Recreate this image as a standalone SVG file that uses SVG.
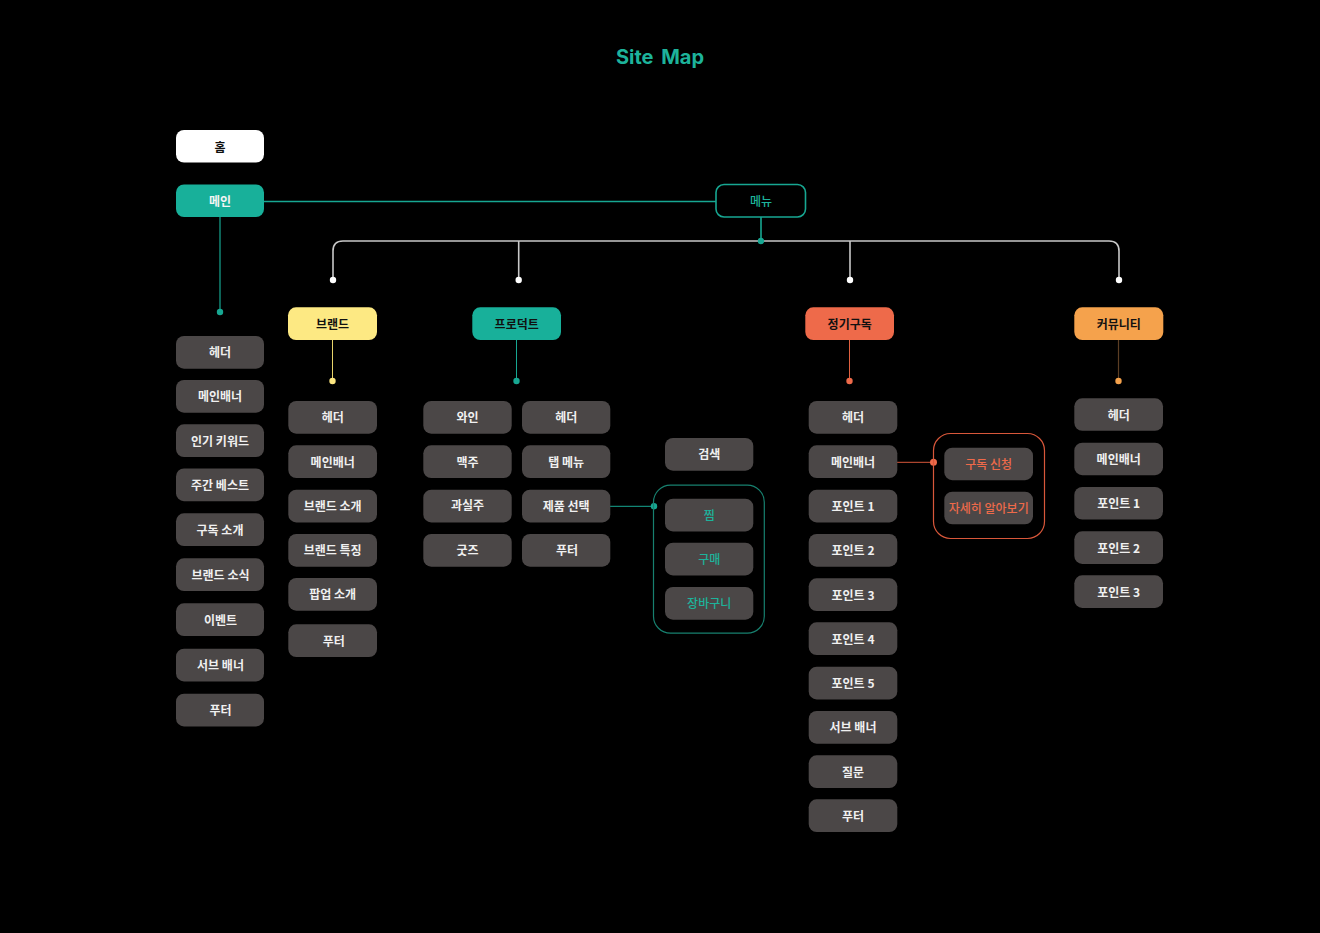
<svg xmlns="http://www.w3.org/2000/svg" width="1320" height="933" viewBox="0 0 1320 933">
<style>
text{font-family:"Noto Sans CJK KR","Noto Sans",sans-serif;font-size:12px;font-weight:700;text-anchor:middle;dominant-baseline:central}
.item rect{fill:#4b4747}
.item text{fill:#f0f0f0}
.item text.tl{fill:#1db39b;font-weight:500}
.item text.or{fill:#ee6a4a;font-weight:500}
.bus{fill:none;stroke:#c8c8c8;stroke-width:1.6}
.wdot{fill:#ffffff}
</style>
<rect width="1320" height="933" fill="#000"/>
<text x="660" y="57" style="font-family:Inter,'Noto Sans',sans-serif;font-size:20px;fill:#1db39b;word-spacing:3px">Site Map</text>

<g id="connectors">
  <line x1="264" y1="201.5" x2="716" y2="201.5" stroke="#17a792" stroke-width="1.6"/>
  <line x1="220" y1="217" x2="220" y2="312" stroke="#17a792" stroke-width="1.2"/>
  <circle cx="220" cy="312" r="3.2" fill="#17a792"/>
  <line x1="761" y1="217" x2="761" y2="241" stroke="#17a792" stroke-width="1.6"/>
  <path class="bus" d="M333 280V251Q333 241 343 241H1109Q1119 241 1119 251V280"/>
  <line class="bus" x1="518.7" y1="241" x2="518.7" y2="280"/>
  <line class="bus" x1="850" y1="241" x2="850" y2="280"/>
  <circle cx="761" cy="241" r="3.2" fill="#17a792"/>
  <circle class="wdot" cx="333" cy="280" r="3.2"/>
  <circle class="wdot" cx="518.7" cy="280" r="3.2"/>
  <circle class="wdot" cx="850" cy="280" r="3.2"/>
  <circle class="wdot" cx="1119" cy="280" r="3.2"/>
  <line x1="332.5" y1="340" x2="332.5" y2="381" stroke="#e8d46a" stroke-width="1"/>
  <circle cx="332.5" cy="381" r="3.2" fill="#fce680"/>
  <line x1="516.5" y1="340" x2="516.5" y2="381" stroke="#17a792" stroke-width="1"/>
  <circle cx="516.5" cy="381" r="3.2" fill="#17a792"/>
  <line x1="849.5" y1="340" x2="849.5" y2="381" stroke="#e0603f" stroke-width="1"/>
  <circle cx="849.5" cy="381" r="3.2" fill="#ee6a4a"/>
  <line x1="1118.5" y1="340" x2="1118.5" y2="381" stroke="#5c3e24" stroke-width="1.2"/>
  <circle cx="1118.5" cy="381" r="3.2" fill="#f5a24c"/>
  <line x1="610" y1="506.3" x2="654" y2="506.3" stroke="#17a792" stroke-width="1"/>
  <circle cx="654" cy="506.3" r="3.2" fill="#17a792"/>
  <line x1="897" y1="462.3" x2="933.5" y2="462.3" stroke="#d8573a" stroke-width="1"/>
  <circle cx="933.5" cy="462.3" r="3.5" fill="#ee6a4a"/>
</g>

<g id="home"><rect x="176" y="130" width="88" height="32.5" rx="8" fill="#ffffff"/><text x="220" y="146" fill="#111">홈</text></g>
<g id="main"><rect x="176" y="184.5" width="88" height="32.5" rx="8" fill="#18b09a"/><text x="220" y="200.5" fill="#f4f4f4">메인</text></g>
<g id="menu"><rect x="716" y="184.5" width="89.5" height="32.5" rx="8" fill="#000" stroke="#17a792" stroke-width="1.6"/><text x="761" y="200.5" fill="#1db39b" style="font-weight:500">메뉴</text></g>

<g id="brand"><rect x="288" y="307.3" width="89" height="32.7" rx="8" fill="#fde983"/><text x="332.5" y="323" fill="#111">브랜드</text></g>
<g id="product"><rect x="472.3" y="307.3" width="88.7" height="32.7" rx="8" fill="#18b09a"/><text x="516.7" y="323" fill="#111">프로덕트</text></g>
<g id="subscription"><rect x="805.3" y="307.3" width="88.7" height="32.7" rx="8" fill="#ee6a4a"/><text x="849.7" y="323" fill="#111">정기구독</text></g>
<g id="community"><rect x="1074.3" y="307.3" width="89" height="32.7" rx="8" fill="#f5a24c"/><text x="1118.8" y="323" fill="#111">커뮤니티</text></g>

<g id="main-items">
  <g id="m1" class="item"><rect x="176" y="336" width="88" height="32.7" rx="8"/><text x="220" y="351.8">헤더</text></g>
  <g id="m2" class="item"><rect x="176" y="380" width="88" height="32.7" rx="8"/><text x="220" y="395.8">메인배너</text></g>
  <g id="m3" class="item"><rect x="176" y="424.3" width="88" height="32.7" rx="8"/><text x="220" y="440.1">인기 키워드</text></g>
  <g id="m4" class="item"><rect x="176" y="468.5" width="88" height="32.7" rx="8"/><text x="220" y="484.3">주간 베스트</text></g>
  <g id="m5" class="item"><rect x="176" y="513.3" width="88" height="32.7" rx="8"/><text x="220" y="529.1">구독 소개</text></g>
  <g id="m6" class="item"><rect x="176" y="558.3" width="88" height="32.7" rx="8"/><text x="220.5" y="574.1">브랜드 소식</text></g>
  <g id="m7" class="item"><rect x="176" y="603.3" width="88" height="32.7" rx="8"/><text x="220.5" y="619.1">이벤트</text></g>
  <g id="m8" class="item"><rect x="176" y="648.7" width="88" height="32.7" rx="8"/><text x="220.5" y="664.5">서브 배너</text></g>
  <g id="m9" class="item"><rect x="176" y="693.7" width="88" height="32.7" rx="8"/><text x="220.5" y="709.5">푸터</text></g>
</g>

<g id="brand-items">
  <g id="b1" class="item"><rect x="288.3" y="401" width="88.7" height="32.7" rx="8"/><text x="332.7" y="416.8">헤더</text></g>
  <g id="b2" class="item"><rect x="288.3" y="445.3" width="88.7" height="32.7" rx="8"/><text x="332.7" y="461.1">메인배너</text></g>
  <g id="b3" class="item"><rect x="288.3" y="489.7" width="88.7" height="32.7" rx="8"/><text x="332.7" y="505.5">브랜드 소개</text></g>
  <g id="b4" class="item"><rect x="288.3" y="534" width="88.7" height="32.7" rx="8"/><text x="332.7" y="549.8">브랜드 특징</text></g>
  <g id="b5" class="item"><rect x="288.3" y="578" width="88.7" height="32.7" rx="8"/><text x="332.7" y="593.8">팝업 소개</text></g>
  <g id="b6" class="item"><rect x="288.3" y="624.3" width="88.7" height="32.7" rx="8"/><text x="333.7" y="640.1">푸터</text></g>
</g>

<g id="product-items">
  <g id="p1" class="item"><rect x="423.3" y="401" width="88.4" height="32.7" rx="8"/><text x="467.5" y="416.8">와인</text></g>
  <g id="p2" class="item"><rect x="423.3" y="445.3" width="88.4" height="32.7" rx="8"/><text x="467.5" y="461.1">맥주</text></g>
  <g id="p3" class="item"><rect x="423.3" y="489.7" width="88.4" height="32.7" rx="8"/><text x="467.5" y="504.5">과실주</text></g>
  <g id="p4" class="item"><rect x="423.3" y="534" width="88.4" height="32.7" rx="8"/><text x="467.5" y="549.8">굿즈</text></g>
  <g id="p5" class="item"><rect x="522" y="401" width="88.3" height="32.7" rx="8"/><text x="566.2" y="416.8">헤더</text></g>
  <g id="p6" class="item"><rect x="522" y="445.3" width="88.3" height="32.7" rx="8"/><text x="566.2" y="461.1">탭 메뉴</text></g>
  <g id="p7" class="item"><rect x="522" y="489.7" width="88.3" height="32.7" rx="8"/><text x="566.2" y="505.5">제품 선택</text></g>
  <g id="p8" class="item"><rect x="522" y="534" width="88.3" height="32.7" rx="8"/><text x="567" y="549.8">푸터</text></g>
  <g id="p9" class="item"><rect x="665" y="438" width="88.3" height="32.7" rx="8"/><text x="709.2" y="453.8">검색</text></g>
</g>

<g id="product-group">
  <rect x="653.5" y="485.2" width="110.8" height="148" rx="17" fill="none" stroke="#17806f" stroke-width="1.2"/>
  <g id="pg1" class="item"><rect x="665" y="498.7" width="88.3" height="32.7" rx="8"/><text class="tl" x="709.2" y="514.5">찜</text></g>
  <g id="pg2" class="item"><rect x="665" y="542.7" width="88.3" height="32.7" rx="8"/><text class="tl" x="709.2" y="558.5">구매</text></g>
  <g id="pg3" class="item"><rect x="665" y="587" width="88.3" height="32.7" rx="8"/><text class="tl" x="709.2" y="602.8">장바구니</text></g>
</g>

<g id="sub-items">
  <g id="s1" class="item"><rect x="808.7" y="401" width="88.6" height="32.7" rx="8"/><text x="853" y="416.8">헤더</text></g>
  <g id="s2" class="item"><rect x="808.7" y="445.3" width="88.6" height="32.7" rx="8"/><text x="853" y="461.1">메인배너</text></g>
  <g id="s3" class="item"><rect x="808.7" y="489.7" width="88.6" height="32.7" rx="8"/><text x="853" y="505.5">포인트 1</text></g>
  <g id="s4" class="item"><rect x="808.7" y="534" width="88.6" height="32.7" rx="8"/><text x="853" y="549.8">포인트 2</text></g>
  <g id="s5" class="item"><rect x="808.7" y="578.3" width="88.6" height="32.7" rx="8"/><text x="853" y="594.1">포인트 3</text></g>
  <g id="s6" class="item"><rect x="808.7" y="622.3" width="88.6" height="32.7" rx="8"/><text x="853" y="638.1">포인트 4</text></g>
  <g id="s7" class="item"><rect x="808.7" y="666.7" width="88.6" height="32.7" rx="8"/><text x="853" y="682.5">포인트 5</text></g>
  <g id="s8" class="item"><rect x="808.7" y="711" width="88.6" height="32.7" rx="8"/><text x="853" y="726.8">서브 배너</text></g>
  <g id="s9" class="item"><rect x="808.7" y="755.3" width="88.6" height="32.7" rx="8"/><text x="853" y="771.1">질문</text></g>
  <g id="s10" class="item"><rect x="808.7" y="799.3" width="88.6" height="32.7" rx="8"/><text x="853" y="815.1">푸터</text></g>
</g>

<g id="sub-group">
  <rect x="933.5" y="433.5" width="111" height="105" rx="17" fill="none" stroke="#d8573a" stroke-width="1.2"/>
  <g id="sg1" class="item"><rect x="944.3" y="447.7" width="88.7" height="32.5" rx="8"/><text class="or" x="988.7" y="463.5">구독 신청</text></g>
  <g id="sg2" class="item"><rect x="944.3" y="491.7" width="88.7" height="32.6" rx="8"/><text class="or" x="988.7" y="507.5">자세히 알아보기</text></g>
</g>

<g id="community-items">
  <g id="c1" class="item"><rect x="1074.3" y="398.3" width="88.7" height="32.5" rx="8"/><text x="1118.7" y="414">헤더</text></g>
  <g id="c2" class="item"><rect x="1074.3" y="442.7" width="88.7" height="32.5" rx="8"/><text x="1118.7" y="458.4">메인배너</text></g>
  <g id="c3" class="item"><rect x="1074.3" y="487" width="88.7" height="32.6" rx="8"/><text x="1118.7" y="502.8">포인트 1</text></g>
  <g id="c4" class="item"><rect x="1074.3" y="531.3" width="88.7" height="32.6" rx="8"/><text x="1118.7" y="547.1">포인트 2</text></g>
  <g id="c5" class="item"><rect x="1074.3" y="575.3" width="88.7" height="32.6" rx="8"/><text x="1118.7" y="591.1">포인트 3</text></g>
</g>
</svg>
